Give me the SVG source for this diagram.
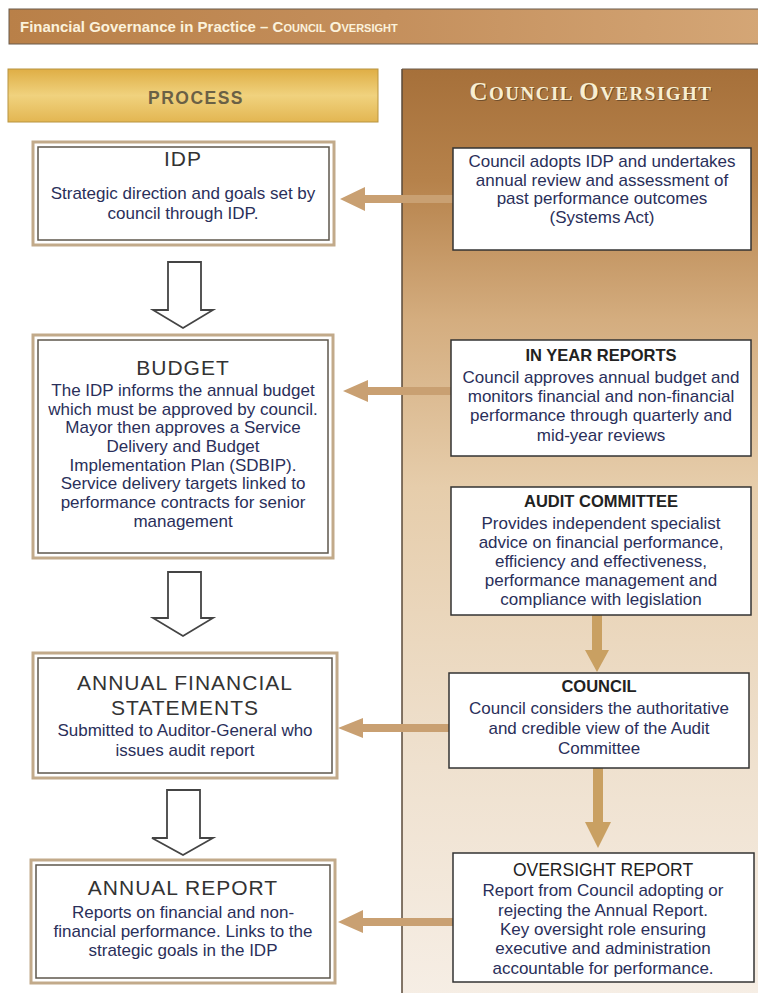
<svg xmlns="http://www.w3.org/2000/svg" width="758" height="993" viewBox="0 0 758 993">
<defs>
<linearGradient id="gTitle" x1="0" y1="0" x2="1" y2="0">
<stop offset="0" stop-color="#b98048"/><stop offset="0.5" stop-color="#c48f5c"/><stop offset="1" stop-color="#d4a676"/>
</linearGradient>
<linearGradient id="gProc" x1="0" y1="0" x2="0" y2="1">
<stop offset="0" stop-color="#dfae45"/><stop offset="0.5" stop-color="#f0d27e"/><stop offset="1" stop-color="#e3b652"/>
</linearGradient>
<linearGradient id="gPanel" x1="0" y1="0" x2="0" y2="1">
<stop offset="0" stop-color="#a6703a"/><stop offset="0.12" stop-color="#b6824b"/><stop offset="0.27" stop-color="#d4ad7f"/><stop offset="0.45" stop-color="#e6cdab"/><stop offset="0.75" stop-color="#efe1cf"/><stop offset="1" stop-color="#f6eee5"/>
</linearGradient>
<style>
.lb{fill:#fff;stroke:#c2aa8a;stroke-width:3}
.lbi{fill:none;stroke:#5e574c;stroke-width:1.5}
.rb{fill:#fff;stroke:#333;stroke-width:1.5}
.h{font-family:"Liberation Sans",Arial,sans-serif;font-size:21px;fill:#333;text-anchor:middle;letter-spacing:1px}
.t{font-family:"Liberation Sans",Arial,sans-serif;font-size:17px;fill:#2a2f5a;text-anchor:middle}
.rh{font-family:"Liberation Sans",Arial,sans-serif;font-size:16.5px;font-weight:bold;fill:#222;text-anchor:middle}
.hollow{fill:#fff;stroke:#444;stroke-width:1.8;stroke-linejoin:miter}
.arr{fill:#c9a072}
.arrd{fill:#c9a062}
</style>
</defs>
<rect x="0" y="0" width="758" height="993" fill="#fff"/>
<g id="title">
<rect x="9" y="9" width="752" height="35" fill="url(#gTitle)" stroke="#6a5a4a" stroke-width="1"/>
<text x="20" y="32" font-family="'Liberation Sans',Arial,sans-serif" font-weight="bold" fill="#fbf2dc" font-size="15">Financial Governance in Practice – C<tspan font-size="11">OUNCIL</tspan> O<tspan font-size="11">VERSIGHT</tspan></text>
</g>
<g id="panel">
<rect x="402" y="69" width="360" height="930" fill="url(#gPanel)"/>
<line x1="402" y1="69" x2="402" y2="993" stroke="#5a4a3a" stroke-width="1.5"/>
<line x1="402" y1="69" x2="758" y2="69" stroke="#6a5a4a" stroke-width="1"/>
<text x="592" y="101" text-anchor="middle" font-family="'Liberation Serif',serif" font-weight="bold" fill="#3a2a1a" opacity="0.5" letter-spacing="1.5"><tspan font-size="25">C</tspan><tspan font-size="19">OUNCIL </tspan><tspan font-size="25">O</tspan><tspan font-size="19">VERSIGHT</tspan></text>
<text x="591" y="100" text-anchor="middle" font-family="'Liberation Serif',serif" font-weight="bold" fill="#f8efd2" letter-spacing="1.5"><tspan font-size="25">C</tspan><tspan font-size="19">OUNCIL </tspan><tspan font-size="25">O</tspan><tspan font-size="19">VERSIGHT</tspan></text>
</g>
<g id="process">
<rect x="8" y="69" width="370" height="53" fill="url(#gProc)" stroke="#b89440" stroke-width="1"/>
<text x="196" y="104" text-anchor="middle" font-family="'Liberation Sans',Arial,sans-serif" font-weight="bold" font-size="17.5" fill="#6a6045" letter-spacing="1.5">PROCESS</text>
</g>
<g id="connectors">
<polygon class="hollow" points="168,262 201,262 201,310 213,310 183,328 153,310 168,310"/>
<polygon class="hollow" points="168,572 201,572 201,618 213,618 183,636 153,618 168,618"/>
<polygon class="hollow" points="167,790 200,790 200,838 213,838 183,855 152,838 167,838"/>
<polygon class="arr" points="453,195 365,195 365,187 340,199 365,211 365,203 453,203"/>
<polygon class="arr" points="451,387 368,387 368,380 343,391 368,402 368,395 451,395"/>
<polygon class="arr" points="449,724 363,724 363,718 338,728 363,738 363,732 449,732"/>
<polygon class="arr" points="453,918 363,918 363,910 338,922 363,933 363,926 453,926"/>
<polygon class="arrd" points="592,615 602,615 602,650 609,650 597,672 585,650 592,650"/>
<polygon class="arrd" points="593,768 603,768 603,822 611,822 598,848 585,822 593,822"/>
</g>
<g id="idp">
<rect class="lb" x="33" y="142" width="301" height="103"/>
<rect class="lbi" x="38" y="147" width="291" height="93"/>
<text class="h" x="183" y="166">IDP</text>
<text class="t" x="183" y="199">Strategic direction and goals set by</text>
<text class="t" x="183" y="219">council through IDP.</text>
</g>
<g id="budget">
<rect class="lb" x="33" y="335" width="300" height="223"/>
<rect class="lbi" x="38" y="340" width="290" height="213"/>
<text class="h" x="183" y="375">BUDGET</text>
<text class="t" x="183" y="396">The IDP informs the annual budget</text>
<text class="t" x="183" y="414.5">which must be approved by council.</text>
<text class="t" x="183" y="433">Mayor then approves a Service</text>
<text class="t" x="183" y="451.5">Delivery and Budget</text>
<text class="t" x="183" y="470.5">Implementation Plan (SDBIP).</text>
<text class="t" x="183" y="489">Service delivery targets linked to</text>
<text class="t" x="183" y="507.5">performance contracts for senior</text>
<text class="t" x="183" y="526.5">management</text>
</g>
<g id="afs">
<rect class="lb" x="33" y="653" width="304" height="125"/>
<rect class="lbi" x="38" y="658" width="294" height="115"/>
<text class="h" x="185" y="690">ANNUAL FINANCIAL</text>
<text class="h" x="185" y="715">STATEMENTS</text>
<text class="t" x="185" y="736">Submitted to Auditor-General who</text>
<text class="t" x="185" y="756">issues audit report</text>
</g>
<g id="annual-report">
<rect class="lb" x="31" y="860" width="304" height="123"/>
<rect class="lbi" x="36" y="865" width="294" height="113"/>
<text class="h" x="183" y="895">ANNUAL REPORT</text>
<text class="t" x="183" y="918">Reports on financial and non-</text>
<text class="t" x="183" y="937">financial performance. Links to the</text>
<text class="t" x="183" y="956">strategic goals in the IDP</text>
</g>
<g id="council-adopts">
<rect class="rb" x="453" y="148" width="298" height="102"/>
<text class="t" x="602" y="167">Council adopts IDP and undertakes</text>
<text class="t" x="602" y="185.5">annual review and assessment of</text>
<text class="t" x="602" y="204">past performance outcomes</text>
<text class="t" x="602" y="222.5">(Systems Act)</text>
</g>
<g id="in-year-reports">
<rect class="rb" x="451" y="340" width="300" height="116"/>
<text class="rh" x="601" y="361">IN YEAR REPORTS</text>
<text class="t" x="601" y="383">Council approves annual budget and</text>
<text class="t" x="601" y="402">monitors financial and non-financial</text>
<text class="t" x="601" y="421">performance through quarterly and</text>
<text class="t" x="601" y="441">mid-year reviews</text>
</g>
<g id="audit-committee">
<rect class="rb" x="451" y="487" width="300" height="128"/>
<text class="rh" x="601" y="507">AUDIT COMMITTEE</text>
<text class="t" x="601" y="529">Provides independent specialist</text>
<text class="t" x="601" y="548">advice on financial performance,</text>
<text class="t" x="601" y="567">efficiency and effectiveness,</text>
<text class="t" x="601" y="586">performance management and</text>
<text class="t" x="601" y="605">compliance with legislation</text>
</g>
<g id="council">
<rect class="rb" x="449" y="673" width="300" height="95"/>
<text class="rh" x="599" y="692">COUNCIL</text>
<text class="t" x="599" y="714">Council considers the authoritative</text>
<text class="t" x="599" y="734">and credible view of the Audit</text>
<text class="t" x="599" y="754">Committee</text>
</g>
<g id="oversight-report">
<rect class="rb" x="453" y="853" width="301" height="129"/>
<text class="rh" x="603" y="876" style="font-weight:normal;font-size:17.5px">OVERSIGHT REPORT</text>
<text class="t" x="603" y="896">Report from Council adopting or</text>
<text class="t" x="603" y="916">rejecting the Annual Report.</text>
<text class="t" x="603" y="935">Key oversight role ensuring</text>
<text class="t" x="603" y="954">executive and administration</text>
<text class="t" x="603" y="974">accountable for performance.</text>
</g>
</svg>
